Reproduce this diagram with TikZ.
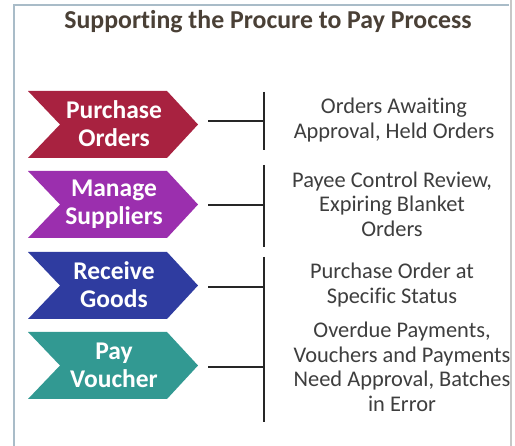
\documentclass[tikz,border=0pt]{standalone}
\usepackage{fontspec}
\setmainfont[RawFeature={-liga;-clig;-calt}]{Carlito}
\begin{document}
\begin{tikzpicture}[x=1pt,y=-1pt,
  lbl/.style={text=white,font=\bfseries\fontsize{25.5}{28}\selectfont,align=center,inner sep=0pt},
  info/.style={text=infotext,font=\fontsize{22.4}{24.5}\selectfont,align=center,inner sep=0pt},
  conn/.style={line width=1.3pt,draw=black!85},
]
\definecolor{infotext}{HTML}{3E3E3E}
\definecolor{titlec}{HTML}{4A4036}
\definecolor{cPO}{HTML}{A82240}
\definecolor{cMS}{HTML}{9B2FAE}
\definecolor{cRG}{HTML}{2F3CA0}
\definecolor{cPV}{HTML}{329992}
\definecolor{frameb}{HTML}{A9BCC8}
\useasboundingbox (0,0) rectangle (515,446);
\fill[white] (0,0) rectangle (515,446);
% frame
\draw[frameb,line width=1.8pt] (14,446) -- (14,5) -- (509,5);
% title
\node[text=titlec,font=\bfseries\fontsize{25.8}{30}\selectfont,inner sep=0pt] (title) at (268,22) {Suppor\kern0pt ting the Procure to Pay Process};
% chevrons
\fill[cPO] (28,91) -- (167,91) -- (198,124.5) -- (167,158) -- (28,158) -- (60,124.5) -- cycle;
\node[lbl] (po) at (114,124) {Purchase\\Orders};
\fill[cMS] (28,171) -- (167,171) -- (198,204.5) -- (167,238) -- (28,238) -- (60,204.5) -- cycle;
\node[lbl] (ms) at (114,204) {Manage\\Suppliers};
\fill[cRG] (28,252) -- (167,252) -- (198,285.5) -- (167,319) -- (28,319) -- (60,285.5) -- cycle;
\node[lbl] (rg) at (114,285) {Receive\\Goods};
\fill[cPV] (28,332) -- (167,332) -- (198,365.5) -- (167,399) -- (28,399) -- (60,365.5) -- cycle;
\node[lbl] (pv) at (114,365) {Pay\\Voucher};
% connector coordinates
\coordinate (poT) at (208,121);
\coordinate (msT) at (208,205);
\coordinate (rgT) at (208,287);
\coordinate (pvT) at (208,367);
\coordinate (poB) at (264,121);
\coordinate (msB) at (264,205);
\coordinate (rgB) at (264,287);
\coordinate (pvB) at (264,367);
\coordinate (b1a) at (264,92);
\coordinate (b1b) at (264,150);
\coordinate (b2a) at (264,165);
\coordinate (b2b) at (264,247);
\coordinate (b3a) at (264,257);
\coordinate (b3b) at (264,422);
\draw[conn] (poT) -- (poB);
\draw[conn] (msT) -- (msB);
\draw[conn] (rgT) -- (rgB);
\draw[conn] (pvT) -- (pvB);
\draw[conn] (b1a) -- (b1b);
\draw[conn] (b2a) -- (b2b);
\draw[conn] (b3a) -- (b3b);
% info texts
\node[info] (t1) at (394,120) {Orders Awaiting\\Approval, Held Orders};
\node[info] (t2) at (392,204) {Payee Control Review,\\Expiring Blanket\\Orders};
\node[info] (t3) at (392,285) {Purchase Order at\\Specific Status};
\node[info] (t4) at (402,367) {Overdue Payments,\\Vouchers and Payments\\Need Approval, Batches\\in Error};
% right edge
\fill[white] (510,0) rectangle (515,446);
\draw[black!22,line width=2.5pt] (511,0) -- (511,446);
\end{tikzpicture}
\end{document}
